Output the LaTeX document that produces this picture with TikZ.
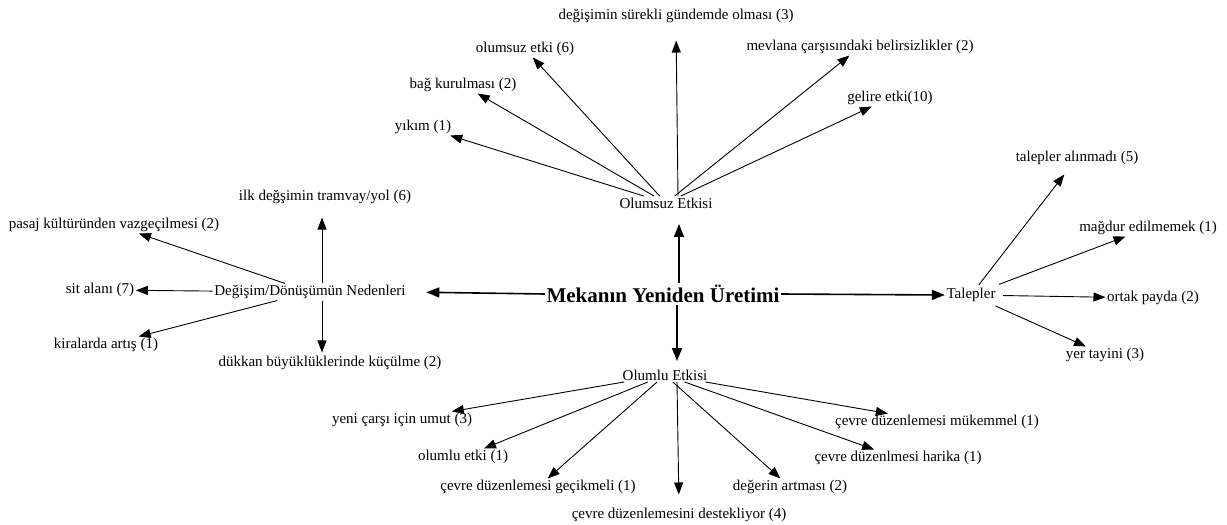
\documentclass[tikz,border=0pt]{standalone}
\usepackage{fontspec}
\setmainfont{Liberation Serif}
\usetikzlibrary{arrows.meta, positioning}

\begin{document}
\begin{tikzpicture}[x=1pt, y=-1pt,
    every node/.style={font=\fontsize{15}{18}\selectfont, inner sep=1.5pt},
    root/.style={font=\fontsize{21}{25}\selectfont\bfseries},
    arr/.style={-{Triangle[length=12pt,width=9pt]}, line width=0.9pt},
    bigarr/.style={-{Triangle[length=13pt,width=10pt]}, line width=1.6pt}]
    \useasboundingbox (0,0) rectangle (1227,525);

    % centre and the four branches
    \node[root] (mek) at (663,294) {Mekanın Yeniden Üretimi};
    \node (oe) at (666,203) {Olumsuz Etkisi};
    \node (ole) at (665,375) {Olumlu Etkisi};
    \node (ned) at (310,292) {Değişim/Dönüşümün Nedenleri};
    \node (tal) at (971,295) {Talepler};

    \node (o1) at (676,16) {değişimin sürekli gündemde olması (3)};
    \node (o2) at (525,49) {olumsuz etki (6)};
    \node (o3) at (463,85) {bağ kurulması (2)};
    \node (o4) at (423,127) {yıkım (1)};
    \node (o5) at (860,47) {mevlana çarşısındaki belirsizlikler (2)};
    \node (o6) at (890,98) {gelire etki(10)};

    \node (n1) at (325,197) {ilk değşimin tramvay/yol (6)};
    \node (n2) at (114,225) {pasaj kültüründen vazgeçilmesi (2)};
    \node (n3) at (100,290) {sit alanı (7)};
    \node (n4) at (106,345) {kiralarda artış (1)};
    \node (n5) at (330,363) {dükkan büyüklüklerinde küçülme (2)};

    \node (t1) at (1077,158) {talepler alınmadı (5)};
    \node (t2) at (1148,228) {mağdur edilmemek (1)};
    \node (t3) at (1153,298) {ortak payda (2)};
    \node (t4) at (1105,355) {yer tayini (3)};

    \node (p1) at (402,420) {yeni çarşı için umut (3)};
    \node (p2) at (463,457) {olumlu etki (1)};
    \node (p3) at (538,487) {çevre düzenlemesi geçikmeli (1)};
    \node (p4) at (679,515) {çevre düzenlemesini destekliyor (4)};
    \node (p5) at (790,487) {değerin artması (2)};
    \node (p6) at (898,458) {çevre düzenlmesi harika (1)};
    \node (p7) at (937,422) {çevre düzenlemesi mükemmel (1)};

    % arrows from the centre
    \draw[bigarr, shorten >=19pt] (mek.west) -- (ned.east);
    \draw[bigarr] (mek.east) -- (tal.west);
    \draw[bigarr, shorten >=14pt] ([xshift=16pt]mek.north) -- ([xshift=13pt]oe.south);
    \draw[bigarr, shorten >=7pt] ([xshift=14pt]mek.south) -- ([xshift=12pt]ole.north);

    % Olumsuz Etkisi
    \draw[arr, shorten >=16pt] ([xshift=12pt]oe.north) -- (o1.south);
    \foreach \c in {o2,o3,o4,o5,o6}
        \draw[arr] (oe) -- (\c);

    % Nedenleri
    \draw[arr, shorten >=12pt] ([xshift=12pt]ned.north) -- ([xshift=-3pt]n1.south);
    \draw[arr, shorten >=2pt] ([xshift=12pt]ned.south) -- ([xshift=-8pt]n5.north);
    \foreach \c in {n2,n3,n4}
        \draw[arr] (ned) -- (\c);

    % Talepler
    \draw[arr, shorten <=2pt, shorten >=10pt] (tal) -- (t1);
    \foreach \c in {t2,t3,t4}
        \draw[arr, shorten <=6pt] (tal) -- (\c);

    % Olumlu Etkisi
    \draw[arr, shorten >=12pt] ([xshift=12pt]ole.south) -- (p4.north);
    \foreach \c in {p1,p2,p3,p5,p6,p7}
        \draw[arr] (ole) -- (\c);
\end{tikzpicture}
\end{document}
